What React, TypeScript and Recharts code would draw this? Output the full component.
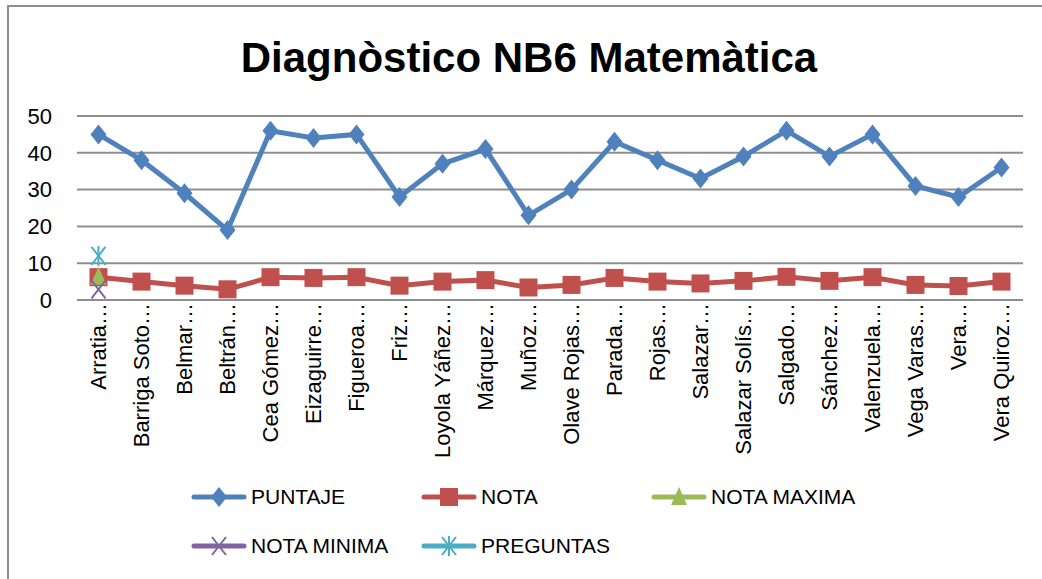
import React from 'react';
import { LineChart, Line, XAxis, YAxis, CartesianGrid, Legend } from 'recharts';

const alumnos = [
  'Arratia…', 'Barriga Soto…', 'Belmar…', 'Beltrán…', 'Cea Gómez…', 'Eizaguirre…',
  'Figueroa…', 'Friz…', 'Loyola Yáñez…', 'Márquez…', 'Muñoz…', 'Olave Rojas…',
  'Parada…', 'Rojas…', 'Salazar…', 'Salazar Solís…', 'Salgado…', 'Sánchez…',
  'Valenzuela…', 'Vega Varas…', 'Vera…', 'Vera Quiroz…',
];
const puntaje = [45, 38, 29, 19, 46, 44, 45, 28, 37, 41, 23, 30, 43, 38, 33, 39, 46, 39, 45, 31, 28, 36];
const nota = [6.2, 5.0, 3.9, 2.9, 6.2, 6.0, 6.2, 3.9, 5.0, 5.4, 3.4, 4.1, 6.0, 5.0, 4.5, 5.2, 6.3, 5.2, 6.2, 4.1, 3.8, 5.0];
const notaMaxima = [6.3];
const notaMinima = [2.9];
const preguntas = [12];
const yTicks = [0, 10, 20, 30, 40, 50];

const data = alumnos.map((name, i) => ({
  name,
  puntaje: puntaje[i],
  nota: nota[i],
  notaMaxima: notaMaxima[i] ?? null,
  notaMinima: notaMinima[i] ?? null,
  preguntas: preguntas[i] ?? null,
}));

const FONT = '"Liberation Sans", Arial, sans-serif';
const BLUE = '#4F81BD';
const RED = '#C0504D';
const GREEN = '#9BBB59';
const PURPLE = '#8064A2';
const CYAN = '#4BACC6';
const GRID = '#8e8e8e';

// marker shapes, drawn around (cx, cy)
const Marker = ({ kind, cx, cy }: { kind: string; cx: number; cy: number }) => {
  switch (kind) {
    case 'diamond':
      return <path d={`M${cx},${cy - 10} L${cx + 8},${cy} L${cx},${cy + 10} L${cx - 8},${cy} Z`} fill={BLUE} />;
    case 'square':
      return <rect x={cx - 9} y={cy - 9} width={18} height={18} fill={RED} />;
    case 'triangle':
      return <path d={`M${cx},${cy - 10} L${cx + 8},${cy + 8} L${cx - 8},${cy + 8} Z`} fill={GREEN} />;
    case 'x':
      return (
        <g stroke={PURPLE} strokeWidth={2}>
          <line x1={cx - 7} y1={cy - 9} x2={cx + 7} y2={cy + 9} />
          <line x1={cx - 7} y1={cy + 9} x2={cx + 7} y2={cy - 9} />
        </g>
      );
    default:
      return (
        <g stroke={CYAN} strokeWidth={2}>
          <line x1={cx - 7} y1={cy - 9} x2={cx + 7} y2={cy + 9} />
          <line x1={cx - 7} y1={cy + 9} x2={cx + 7} y2={cy - 9} />
          <line x1={cx} y1={cy - 10} x2={cx} y2={cy + 10} />
        </g>
      );
  }
};

const dotOf = (kind: string) => (p: any) => {
  if (p.cx == null || p.cy == null || p.value == null) return <g key={p.index} />;
  return (
    <g key={p.index}>
      <Marker kind={kind} cx={p.cx} cy={p.cy} />
    </g>
  );
};

const series = [
  { key: 'puntaje', name: 'PUNTAJE', color: BLUE, marker: 'diamond' },
  { key: 'nota', name: 'NOTA', color: RED, marker: 'square' },
  { key: 'notaMaxima', name: 'NOTA MAXIMA', color: GREEN, marker: 'triangle' },
  { key: 'notaMinima', name: 'NOTA MINIMA', color: PURPLE, marker: 'x' },
  { key: 'preguntas', name: 'PREGUNTAS', color: CYAN, marker: 'star' },
];

const XTick = ({ x, y, payload }: any) => (
  <text
    x={x}
    y={y}
    transform={`rotate(-90, ${x}, ${y})`}
    textAnchor="end"
    dominantBaseline="central"
    fontSize={22}
    fontFamily={FONT}
    fill="#000"
  >
    {payload.value}
  </text>
);

const LegendBox = () => {
  const slots = [
    { left: 191, top: 18 }, { left: 421, top: 18 }, { left: 651, top: 18 },
    { left: 191, top: 67 }, { left: 421, top: 67 },
  ];
  return (
    <div style={{ position: 'relative', width: 1042, height: 100 }}>
      {series.map((s, i) => (
        <div
          key={s.key}
          style={{
            position: 'absolute', left: slots[i].left, top: slots[i].top - 12,
            height: 24, display: 'flex', alignItems: 'center', whiteSpace: 'nowrap',
          }}
        >
          <svg width={58} height={24} style={{ display: 'block' }}>
            <line x1={3} y1={12} x2={53} y2={12} stroke={s.color} strokeWidth={5} strokeLinecap="round" />
            <Marker kind={s.marker} cx={28} cy={12} />
          </svg>
          <span style={{ fontFamily: FONT, fontSize: 21, color: '#000', marginLeft: 2 }}>{s.name}</span>
        </div>
      ))}
    </div>
  );
};

export default function App() {
  return (
    <div style={{ position: 'absolute', left: 0, top: 0, width: 1042, height: 579, overflow: 'hidden', background: '#fff' }}>
      <div style={{ position: 'absolute', left: 7, top: 5, width: 1100, height: 700, border: '2px solid #8f8f8f' }} />
      <div
        style={{
          position: 'absolute', left: 0, top: 37, width: 1058, textAlign: 'center',
          fontFamily: FONT, fontSize: 42, fontWeight: 'bold', lineHeight: '42px', color: '#000',
        }}
      >
        Diagnòstico NB6 Matemàtica
      </div>
      <div style={{ position: 'absolute', left: 0, top: 0 }}>
        <LineChart width={1042} height={579} data={data} margin={{ top: 116, right: 19, bottom: 0, left: 0 }}>
          <CartesianGrid vertical={false} stroke={GRID} strokeWidth={2} />
          <XAxis
            dataKey="name"
            interval={0}
            height={179}
            padding={{ left: 21.5, right: 21.5 }}
            tickSize={0}
            tickMargin={3}
            tick={<XTick />}
            axisLine={{ stroke: GRID, strokeWidth: 2 }}
          />
          <YAxis
            domain={[0, 50]}
            ticks={yTicks}
            width={77}
            tickSize={0}
            tickMargin={25}
            axisLine={false}
            tick={{ fill: '#000', fontSize: 22, fontFamily: FONT }}
          />
          <Legend verticalAlign="bottom" height={100} wrapperStyle={{ left: 0, width: 1042 }} content={() => <LegendBox />} />
          {series.map((s) => (
            <Line
              key={s.key}
              dataKey={s.key}
              name={s.name}
              stroke={s.color}
              strokeWidth={5}
              dot={dotOf(s.marker)}
              activeDot={false}
              isAnimationActive={false}
            />
          ))}
        </LineChart>
      </div>
    </div>
  );
}
